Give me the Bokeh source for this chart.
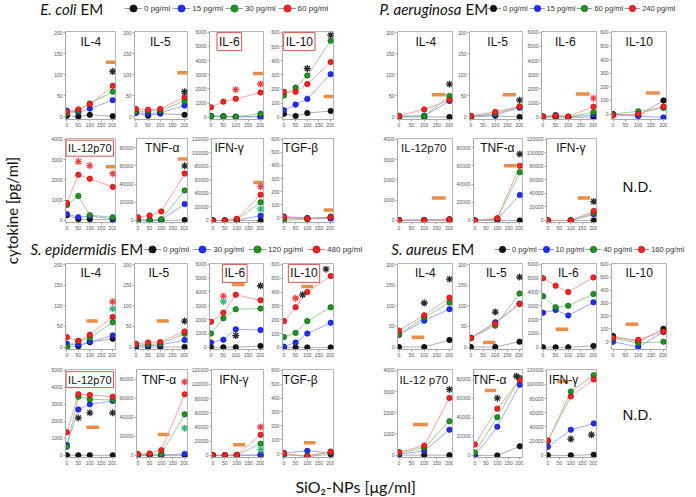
import math
from bokeh.plotting import figure
from bokeh.models import (Range1d, Label, Legend, LegendItem, ColumnDataSource,
                          Spacer, BasicTickFormatter, FixedTicker)
from bokeh.layouts import row, column
from bokeh.embed import file_html
from bokeh.resources import INLINE

# ------------------------------------------------------------------ data
X4 = [0, 50, 100, 200]
X3 = [0, 100, 200]
X_TICKS = [0, 50, 100, 150, 200]

T200 = [0, 50, 100, 150, 200]
T600 = [0, 100, 200, 300, 400, 500, 600]
T4K = [0, 1000, 2000, 3000, 4000]
T5K = [0, 1000, 2000, 3000, 4000, 5000]
T6K = [0, 1000, 2000, 3000, 4000, 5000, 6000]
T80K = [0, 20000, 40000, 60000, 80000]
T120K = [0, 20000, 40000, 60000, 80000, 100000, 120000]

EC_DOSES = ["0 pg/ml", "15 pg/ml", "30 pg/ml", "60 pg/ml"]
PA_DOSES = ["0 pg/ml", "15 pg/ml", "60 pg/ml", "240 pg/ml"]
SE_DOSES = ["0 pg/ml", "30 pg/ml", "120 pg/ml", "480 pg/ml"]
SA_DOSES = ["0 pg/ml", "10 pg/ml", "40 pg/ml", "160 pg/ml"]

# each value list: [0 pg/ml, low, mid, high]; stars: [x, y, series]; bar: [x0, x1, y]
# E. coli EM
EC_IL4 = [[3, 1, 5, 2], [15, 11, 20, 40], [8, 14, 32, 60], [12, 18, 30, 74]]
EC_IL4_STARS = [[200, 108, 0]]
EC_IL4_BAR = [170, 210, 130]
EC_IL5 = [[10, 3, 8, 5], [10, 8, 10, 27], [13, 14, 15, 38], [19, 17, 19, 47]]
EC_IL5_STARS = [[200, 60, 0]]
EC_IL5_BAR = [170, 210, 105]
EC_IL6 = [[50, 30, 20, 40], [100, 80, 40, 50], [80, 50, 30, 250], [700, 1100, 1300, 1750]]
EC_IL6_STARS = [[100, 1950, 3], [200, 2350, 3]]
EC_IL6_BAR = [170, 210, 3100]
EC_IL10 = [[25, 10, 30, 45], [50, 90, 130, 305], [155, 210, 295, 540], [180, 180, 235, 390]]
EC_IL10_STARS = [[100, 345, 0], [200, 580, 0]]
EC_IL10_BAR = [170, 210, 148]
EC_IL12 = [[250, 50, 50, 30], [300, 150, 200, 80], [750, 1200, 250, 150], [850, 2250, 2050, 1650]]
EC_IL12_STARS = [[50, 2900, 3], [100, 2700, 3], [200, 2300, 3]]
EC_IL12_BAR = [170, 210, 2650]
EC_TNF = [[0, 0, 0, 500], [500, 300, 800, 18000], [400, 300, 1500, 33000], [3500, 5500, 10000, 51500]]
EC_TNF_STARS = [[200, 60000, 0]]
EC_TNF_BAR = [170, 210, 67500]
EC_IFN = [[0, 0, 0, 0], [0, 0, 500, 7000], [0, 0, 1000, 27000], [0, 0, 2500, 38000]]
EC_IFN_STARS = [[200, 50000, 3], [200, 17000, 2]]
EC_IFN_BAR = [170, 210, 56000]
EC_TGF = [[-5, -5, 0], [10, 0, -5], [-20, -10, 10], [5, -5, 5]]
EC_TGF_STARS = []
EC_TGF_BAR = [170, 210, 60]

# P. aeruginosa EM
PA_IL4 = [[0, 0, 0], [2, 3, 38], [1, 2, 50], [3, 18, 40]]
PA_IL4_STARS = [[200, 78, 0]]
PA_IL4_BAR = [130, 185, 53]
PA_IL5 = [[0, 3, 0], [2, 5, 22], [1, 8, 24], [3, 12, 25]]
PA_IL5_STARS = [[200, 40, 0]]
PA_IL5_BAR = [130, 185, 53]
PA_IL6 = [[0, 0, 0, 0], [50, 150, 30, 150], [30, 50, 20, 350], [50, 100, 50, 750]]
PA_IL6_STARS = [[200, 1350, 3]]
PA_IL6_BAR = [130, 185, 1650]
PA_IL10 = [[0, -10, 100], [-5, -15, -25], [0, 20, 45], [-10, 0, 55]]
PA_IL10_STARS = []
PA_IL10_BAR = [130, 185, 155]
PA_IL12 = [[0, 0, 0], [5, 10, 50], [0, 0, 30], [0, 0, 40]]
PA_IL12_STARS = []
PA_IL12_BAR = [130, 185, 1100]
PA_TNF = [[0, 0, 0], [0, 1500, 28000], [0, 2000, 53000], [0, 2500, 60000]]
PA_TNF_STARS = [[200, 73000, 0]]
PA_TNF_BAR = [130, 185, 60000]
PA_IFN = [[0, 0, 0], [0, 0, 9000], [0, 0, 11000], [0, 0, 14000]]
PA_IFN_STARS = [[200, 28000, 0]]
PA_IFN_BAR = [130, 185, 33000]

# S. epidermidis EM
SE_IL4 = [[0, 2, 12, 20], [8, 5, 12, 28], [0, 14, 22, 60], [24, 15, 30, 73]]
SE_IL4_STARS = [[200, 110, 3], [200, 93, 2]]
SE_IL4_BAR = [85, 135, 63]
SE_IL5 = [[0, 0, 0, 0], [3, 3, 5, 17], [5, 6, 8, 32], [8, 11, 12, 38]]
SE_IL5_STARS = [[200, 63, 0]]
SE_IL5_BAR = [85, 135, 63]
SE_IL6 = [[0, 0, 0, 100], [350, 550, 1300, 1250], [1000, 2100, 2750, 2800], [1850, 2500, 3800, 3400]]
SE_IL6_STARS = [[50, 3700, 3], [50, 3300, 2], [100, 850, 0], [200, 4450, 0]]
SE_IL6_BAR = [85, 135, 4550]
SE_IL10 = [[0, 0, 0, 0], [5, 35, 100, 178], [75, 105, 190, 290], [190, 290, 400, 515]]
SE_IL10_STARS = [[50, 355, 3], [80, 380, 0], [180, 565, 0]]
SE_IL10_BAR = [75, 125, 440]
SE_IL12 = [[0, 0, 0, 0], [600, 2700, 3000, 3200], [500, 3450, 3300, 3250], [1350, 3600, 3550, 3450]]
SE_IL12_STARS = [[50, 2200, 0], [100, 2500, 0], [200, 2500, 0]]
SE_IL12_BAR = [85, 140, 1650]
SE_TNF = [[0, 0, 0, 0], [500, 500, 500, 1500], [800, 1000, 1500, 43000], [1500, 2000, 5500, 64000]]
SE_TNF_STARS = [[200, 77000, 3], [200, 28500, 2]]
SE_TNF_BAR = [85, 135, 22000]
SE_IFN = [[0, 0, 0, 0], [0, 0, 0, 1000], [0, 0, 0, 16500], [0, 0, 1000, 29000]]
SE_IFN_STARS = [[200, 40000, 3], [200, 8000, 2]]
SE_IFN_BAR = [85, 135, 15000]
SE_TGF = [[-5, -20, -5], [5, 20, 5], [-10, -15, 10], [0, -20, 15]]
SE_TGF_STARS = []
SE_TGF_BAR = [85, 135, 78]

# S. aureus EM
SA_IL4 = [[0, 0, 17], [30, 64, 92], [30, 72, 108], [40, 77, 120]]
SA_IL4_STARS = [[100, 107, 0], [200, 165, 0]]
SA_IL4_BAR = [50, 100, 24]
SA_IL5 = [[0, 0, 13], [22, 60, 105], [22, 52, 130], [22, 57, 105]]
SA_IL5_STARS = [[100, 85, 0], [200, 170, 0]]
SA_IL5_BAR = [50, 100, 11]
SA_IL6 = [[0, 0, 0, 100], [2500, 2700, 2300, 3250], [3700, 2900, 3000, 3850], [5000, 4450, 4000, 5050]]
SA_IL6_STARS = []
SA_IL6_BAR = [50, 100, 1300]
SA_IL10 = [[45, 0, 100], [0, -40, 75], [25, -10, 0], [30, 15, 80]]
SA_IL10_STARS = []
SA_IL10_BAR = [50, 100, 135]
SA_IL12 = [[0, 0, 0], [50, 200, 1200], [100, 350, 1600], [150, 450, 2700]]
SA_IL12_STARS = [[200, 3100, 0]]
SA_IL12_BAR = [55, 115, 1450]
SA_TNF = [[0, 0, 9500], [0, 30000, 74000], [3000, 40000, 81000], [11500, 49000, 79000]]
SA_TNF_STARS = [[100, 60000, 0], [185, 83000, 0]]
SA_TNF_BAR = [45, 95, 68000]
SA_IFN = [[0, 0, 1000], [12000, 36000, 45000], [20000, 90000, 113000], [21000, 83000, 107000]]
SA_IFN_STARS = [[100, 23000, 0], [190, 29000, 0]]
SA_IFN_BAR = [40, 90, 104000]

# ------------------------------------------------------------------ style
COLORS = ["#151515", "#1f2eff", "#1c961c", "#ff2020"]
EDGES = ["#000000", "#0a1590", "#0c5410", "#9a0a0a"]
LINES = ["#9a9a9a", "#8a92ff", "#7cc77c", "#ff8c8c"]
STAR_COLORS = ["#2a2a2a", "#2a3cff", "#34b877", "#ff4040"]
BAR_COLOR = "#e9873f"
BOX_COLOR = "#d9534f"
SANS = "Liberation Sans"
CAL = "Lato"

X0 = 22          # page x where the main column starts
PAGE_RIGHT = 696
NAN = float("nan")


def P(title, xs, ys, stars, bar, ticks, yr, tx, boxed=False, fs="12px"):
    return dict(title=title, xs=xs, ys=ys, stars=stars, bar=bar, ticks=ticks,
                yr=yr, tx=tx, boxed=boxed, fs=fs)


def tick_border(ticks):
    return int(math.ceil(max(len(str(t)) for t in ticks) * 2.8 + 4))


def make_panel(spec, w, h, bl, bt, bb):
    y0, y1 = spec["yr"]
    p = figure(width=w, height=h, x_range=Range1d(-6, 212), y_range=Range1d(y0, y1),
               toolbar_location=None, tools="", output_backend="svg",
               min_border_left=bl, min_border_right=1, min_border_top=bt,
               min_border_bottom=bb)
    p.grid.visible = False
    p.outline_line_color = "#b5b5b5"
    p.outline_line_width = 1
    p.background_fill_color = "white"
    p.border_fill_color = "white"
    p.xaxis.ticker = FixedTicker(ticks=X_TICKS)
    p.yaxis.ticker = FixedTicker(ticks=spec["ticks"])
    p.yaxis.formatter = BasicTickFormatter(use_scientific=False)
    for ax in p.axis:
        ax.major_label_text_font_size = "5px"
        ax.major_label_text_font = SANS
        ax.major_label_text_color = "#555555"
        ax.axis_line_color = "#a8a8a8"
        ax.major_tick_line_color = "#a8a8a8"
        ax.major_tick_out = 2
        ax.major_tick_in = 0
        ax.minor_tick_line_color = None
        ax.major_label_standoff = 1

    bx0, bx1, by = spec["bar"]
    p.segment(x0=[bx0], y0=[by], x1=[bx1], y1=[by], line_color=BAR_COLOR,
              line_width=3.5, line_alpha=0.95)

    srcs = [ColumnDataSource(dict(x=spec["xs"], y=yv)) for yv in spec["ys"]]
    for i, src in enumerate(srcs):
        p.line("x", "y", source=src, line_color=LINES[i], line_width=0.8)
    for i, src in enumerate(srcs):
        p.scatter("x", "y", source=src, size=5.5, fill_color=COLORS[i],
                  line_color=EDGES[i], line_width=0.6)

    if spec["stars"]:
        ssrc = ColumnDataSource(dict(
            x=[s[0] for s in spec["stars"]],
            y=[s[1] for s in spec["stars"]],
            c=[STAR_COLORS[s[2]] for s in spec["stars"]]))
        p.scatter("x", "y", source=ssrc, marker="asterisk", size=7,
                  line_color="c", line_width=1.3)

    ty = y1 - 0.115 * (y1 - y0)
    lab = Label(x=spec["tx"], y=ty, text=spec["title"], text_align="center",
                text_baseline="middle", text_font=SANS, text_font_size=spec["fs"],
                text_color="#111111")
    if spec["boxed"]:
        lab.border_line_color = BOX_COLOR
        lab.border_line_width = 1
        lab.background_fill_color = "white"
        lab.padding = 2
    p.add_layout(lab)
    return p


def blank_fig(left, right, y_top, y_bot):
    p = figure(width=right - left, height=y_bot - y_top,
               x_range=Range1d(left, right), y_range=Range1d(y_bot, y_top),
               x_axis_type=None, y_axis_type=None, toolbar_location=None,
               tools="", output_backend="svg", min_border_left=0,
               min_border_right=0, min_border_top=0, min_border_bottom=0)
    p.grid.visible = False
    p.outline_line_color = None
    p.background_fill_color = "white"
    p.border_fill_color = "white"
    return p


def make_nd(left, right, y_top, y_bot, tx, ty):
    p = blank_fig(left, right, y_top, y_bot)
    p.add_layout(Label(x=tx, y=ty, text="N.D.", text_align="center",
                       text_baseline="middle", text_font=SANS,
                       text_font_size="15px", text_color="#111111"))
    return p


def build_row(entries, y_top, y_bot, bt, bb):
    h = y_bot - y_top
    kids = []
    cur = X0
    for e in entries:
        if e[0] == "nd":
            kids.append(make_nd(cur, PAGE_RIGHT, y_top, y_bot, e[1], e[2]))
            cur = PAGE_RIGHT
            continue
        spec, (L, R) = e
        bl = tick_border(spec["ticks"])
        left = max(cur, L - bl)
        if left > cur:
            kids.append(Spacer(width=left - cur, height=h))
        bl = max(bl, L - left)
        w = R + 1 - left
        kids.append(make_panel(spec, w, h, bl, bt, bb))
        cur = left + w
    return row(kids)


def add_title(p, italic, jx, yc):
    p.add_layout(Label(x=jx, y=yc, text=italic, text_align="right",
                       text_baseline="middle", text_font=CAL,
                       text_font_style="italic", text_font_size="15px",
                       text_color="#111111"))
    p.add_layout(Label(x=jx + 4, y=yc, text="EM", text_align="left",
                       text_baseline="middle", text_font=CAL,
                       text_font_size="15px", text_color="#111111"))


def add_legend(p, labels, x_page, y_screen, font_size, glyph_w, spacing):
    items = []
    for i, lab in enumerate(labels):
        src = ColumnDataSource(dict(x=[NAN], y=[NAN]))
        lr = p.line("x", "y", source=src, line_color="#9a9a9a", line_width=1)
        sr = p.scatter("x", "y", source=src, size=8, fill_color=COLORS[i],
                       line_color=EDGES[i], line_width=0.6)
        items.append(LegendItem(label=lab, renderers=[lr, sr]))
    leg = Legend(items=items, location=(x_page - X0, y_screen),
                 orientation="horizontal", glyph_width=glyph_w, glyph_height=20,
                 label_height=20, label_standoff=2, spacing=spacing, padding=0,
                 margin=0, border_line_color=None, background_fill_alpha=0,
                 label_text_font=SANS, label_text_font_size=font_size,
                 label_text_color="#333333")
    p.add_layout(leg)


# ------------------------------------------------------------------ layout
LF = [(64, 115), (133, 187), (208, 263), (281, 333)]
RF = [(396, 452), (468, 522), (540, 596), (608, 666)]

R200 = (-6, 203)
R4K = (-110, 4040)
R5K = (-130, 5050)
R6K = (-160, 6060)
R80K = (-2200, 90000)
R120K = (-3000, 121000)

row1 = [
    (P("IL-4", X4, EC_IL4, EC_IL4_STARS, EC_IL4_BAR, T200, R200, 104), LF[0]),
    (P("IL-5", X4, EC_IL5, EC_IL5_STARS, EC_IL5_BAR, T200, R200, 100), LF[1]),
    (P("IL-6", X4, EC_IL6, EC_IL6_STARS, EC_IL6_BAR, T6K, R6K, 74, True), LF[2]),
    (P("IL-10", X4, EC_IL10, EC_IL10_STARS, EC_IL10_BAR, T600, (-15, 606), 66, True), LF[3]),
    (P("IL-4", X3, PA_IL4, PA_IL4_STARS, PA_IL4_BAR, T200, R200, 106), RF[0]),
    (P("IL-5", X3, PA_IL5, PA_IL5_STARS, PA_IL5_BAR, T200, R200, 110), RF[1]),
    (P("IL-6", X4, PA_IL6, PA_IL6_STARS, PA_IL6_BAR, T6K, R6K, 88), RF[2]),
    (P("IL-10", X3, PA_IL10, PA_IL10_STARS, PA_IL10_BAR, T600, (-40, 606), 104), RF[3]),
]
row2 = [
    (P("IL-12p70", X4, EC_IL12, EC_IL12_STARS, EC_IL12_BAR, T4K, R4K, 100, True, "11px"), LF[0]),
    (P("TNF-\u03b1", X4, EC_TNF, EC_TNF_STARS, EC_TNF_BAR, T80K, R80K, 104), LF[1]),
    (P("IFN-\u03b3", X4, EC_IFN, EC_IFN_STARS, EC_IFN_BAR, T120K, R120K, 68), LF[2]),
    (P("TGF-\u03b2", X3, EC_TGF, EC_TGF_STARS, EC_TGF_BAR, T600, (-35, 606), 72), LF[3]),
    (P("IL-12p70", X3, PA_IL12, PA_IL12_STARS, PA_IL12_BAR, T4K, R4K, 98, False, "11.5px"), RF[0]),
    (P("TNF-\u03b1", X3, PA_TNF, PA_TNF_STARS, PA_TNF_BAR, T80K, R80K, 100), RF[1]),
    (P("IFN-\u03b3", X3, PA_IFN, PA_IFN_STARS, PA_IFN_BAR, T120K, R120K, 100), RF[2]),
    ("nd", 637, 188),
]
row3 = [
    (P("IL-4", X4, SE_IL4, SE_IL4_STARS, SE_IL4_BAR, T200, R200, 104), LF[0]),
    (P("IL-5", X4, SE_IL5, SE_IL5_STARS, SE_IL5_BAR, T200, R200, 94), LF[1]),
    (P("IL-6", X4, SE_IL6, SE_IL6_STARS, SE_IL6_BAR, T6K, R6K, 96, True), LF[2]),
    (P("IL-10", X4, SE_IL10, SE_IL10_STARS, SE_IL10_BAR, T600, (-15, 606), 86, True), LF[3]),
    (P("IL-4", X3, SA_IL4, SA_IL4_STARS, SA_IL4_BAR, T200, R200, 104), RF[0]),
    (P("IL-5", X3, SA_IL5, SA_IL5_STARS, SA_IL5_BAR, T200, R200, 104), RF[1]),
    (P("IL-6", X4, SA_IL6, SA_IL6_STARS, SA_IL6_BAR, T6K, R6K, 100), RF[2]),
    (P("IL-10", X3, SA_IL10, SA_IL10_STARS, SA_IL10_BAR, T600, (-60, 606), 104), RF[3]),
]
row4 = [
    (P("IL-12p70", X4, SE_IL12, SE_IL12_STARS, SE_IL12_BAR, T5K, R5K, 100, True, "11px"), LF[0]),
    (P("TNF-\u03b1", X4, SE_TNF, SE_TNF_STARS, SE_TNF_BAR, T80K, R80K, 90), LF[1]),
    (P("IFN-\u03b3", X4, SE_IFN, SE_IFN_STARS, SE_IFN_BAR, T120K, R120K, 88), LF[2]),
    (P("TGF-\u03b2", X3, SE_TGF, SE_TGF_STARS, SE_TGF_BAR, T600, (-28, 606), 70), LF[3]),
    (P("IL-12 p70", X3, SA_IL12, SA_IL12_STARS, SA_IL12_BAR, T4K, R4K, 98, False, "11.5px"), RF[0]),
    (P("TNF-\u03b1", X3, SA_TNF, SA_TNF_STARS, SA_TNF_BAR, T80K, R80K, 64), RF[1]),
    (P("IFN-\u03b3", X3, SA_IFN, SA_IFN_STARS, SA_IFN_BAR, T120K, R120K, 68), RF[2]),
    ("nd", 637, 414),
]

# header A (page y 0..24)
headA = blank_fig(X0, PAGE_RIGHT, 0, 24)
add_title(headA, "E. coli", 76, 8)
add_legend(headA, EC_DOSES, 124, 6, "8px", 18, 2)
add_title(headA, "P. aeruginosa", 461, 8)
add_legend(headA, PA_DOSES, 485, 6, "7.5px", 16, 1)

# header B (page y 232..260)
headB = blank_fig(X0, PAGE_RIGHT, 232, 260)
add_title(headB, "S. epidermidis", 116, 248)
add_legend(headB, SE_DOSES, 143, 1, "8px", 18, 4)
add_title(headB, "S. aureus", 447, 248)
add_legend(headB, SA_DOSES, 494, 1, "7.5px", 16, 1)

r1 = build_row(row1, 24, 129, 7, 10)
r2 = build_row(row2, 129, 232, 9, 9)
r3 = build_row(row3, 260, 359, 3, 10)
r4 = build_row(row4, 359, 467, 10, 10)

xlab = blank_fig(X0, PAGE_RIGHT, 467, 496)
xlab.add_layout(Label(x=295, y=486, text="SiO\u2082-NPs [\u03bcg/ml]", text_align="left",
                      text_baseline="middle", text_font=CAL, text_font_size="16px",
                      text_color="#111111"))

ylab = blank_fig(0, X0, 0, 496)
ylab.add_layout(Label(x=11, y=210, text="cytokine [pg/ml]", angle=math.pi / 2,
                      text_align="center", text_baseline="middle", text_font=CAL,
                      text_font_size="15px", text_color="#111111"))

main = column(headA, r1, r2, headB, r3, r4, xlab)
root = row(ylab, main)

open("out.html", "w").write(file_html(root, INLINE))
